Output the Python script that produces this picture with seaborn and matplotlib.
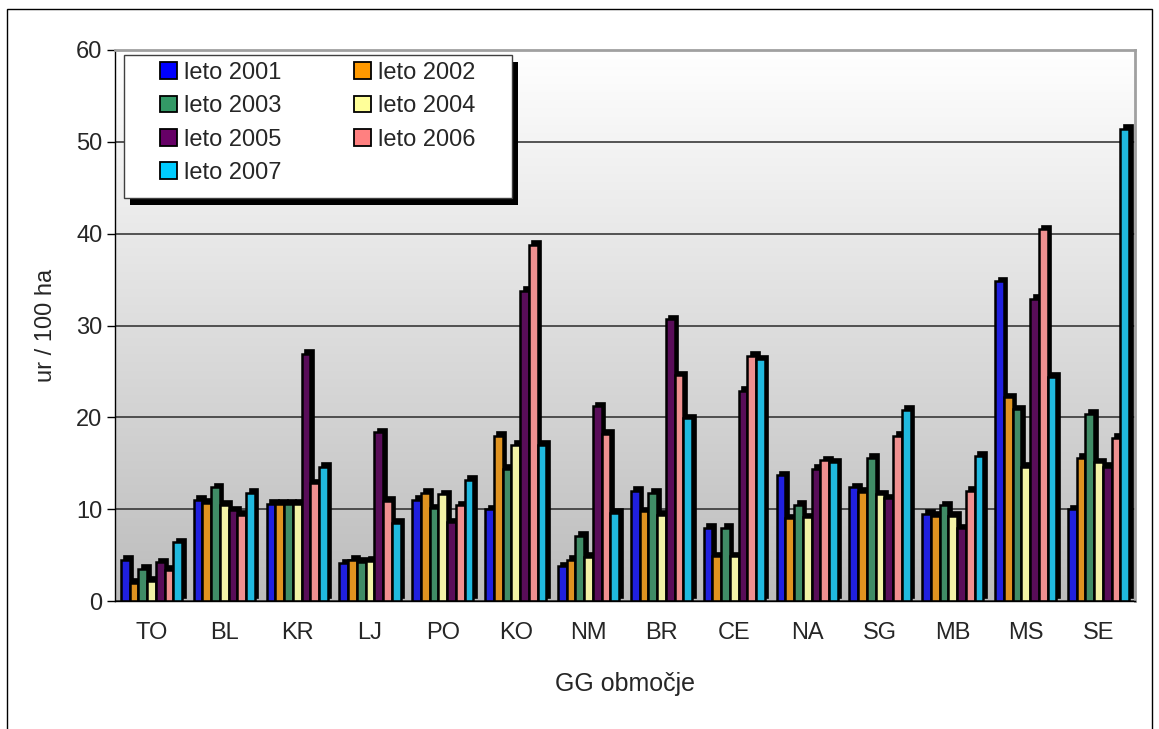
import matplotlib

matplotlib.use("Agg")

import matplotlib.pyplot as plt
import numpy as np
import pandas as pd
import seaborn as sns
from matplotlib.colors import LinearSegmentedColormap
from matplotlib.patches import Patch, Rectangle
from matplotlib.transforms import ScaledTranslation

# Podatki: ure / 100 ha po GG območjih in letih
obmocja = ["TO", "BL", "KR", "LJ", "PO", "KO", "NM", "BR", "CE", "NA", "SG", "MB", "MS", "SE"]
leta = ["leto 2001", "leto 2002", "leto 2003", "leto 2004", "leto 2005", "leto 2006", "leto 2007"]

leto_2001 = [4.5, 11.0, 10.6, 4.1, 11.0, 10.0, 3.8, 12.0, 8.0, 13.7, 12.4, 9.5, 34.8, 10.0]
leto_2002 = [2.0, 10.7, 10.6, 4.5, 11.8, 18.0, 4.5, 9.8, 4.9, 9.0, 11.9, 9.3, 22.2, 15.6]
leto_2003 = [3.5, 12.4, 10.6, 4.3, 10.1, 14.4, 7.1, 11.8, 8.0, 10.5, 15.6, 10.4, 20.9, 20.4]
leto_2004 = [2.2, 10.5, 10.6, 4.4, 11.6, 17.0, 4.8, 9.4, 4.9, 9.1, 11.6, 9.3, 14.6, 15.1]
leto_2005 = [4.2, 9.9, 26.9, 18.4, 8.6, 33.8, 21.2, 30.7, 22.9, 14.4, 11.2, 7.9, 32.9, 14.6]
leto_2006 = [3.4, 9.4, 12.8, 10.9, 10.4, 38.8, 18.2, 24.6, 26.7, 15.3, 18.0, 12.0, 40.5, 17.8]
leto_2007 = [6.4, 11.8, 14.6, 8.5, 13.2, 17.0, 9.6, 19.9, 26.3, 15.1, 20.8, 15.8, 24.4, 51.4]

barve = ["#0000ff", "#ff9900", "#339966", "#ffff99", "#660066", "#ff8080", "#00ccff"]

serije = [leto_2001, leto_2002, leto_2003, leto_2004, leto_2005, leto_2006, leto_2007]
df = pd.DataFrame(
    [(o, l, v) for l, s in zip(leta, serije) for o, v in zip(obmocja, s)],
    columns=["obmocje", "leto", "vrednost"],
)

sns.set_style("white")
plt.rcParams["font.family"] = ["Liberation Sans", "DejaVu Sans"]

W, H = 1159, 729
fig = plt.figure(figsize=(W / 100, H / 100), dpi=100)
ax = fig.add_axes([115 / W, 1 - 601 / H, 1020 / W, 551 / H])

sns.barplot(
    data=df, x="obmocje", y="vrednost", hue="leto",
    order=obmocja, hue_order=leta, palette=barve,
    width=0.84, edgecolor="black", linewidth=1.8,
    legend=False, ax=ax, zorder=2,
)

# psevdo 3D globina: temna senca zgoraj in desno od vsakega stolpca
zamik = ScaledTranslation(3.5 / 100, 3.5 / 100, fig.dpi_scale_trans)
for p in list(ax.patches):
    ax.add_patch(Rectangle(
        (p.get_x(), p.get_y()), p.get_width(), p.get_height(),
        facecolor="black", edgecolor="black", linewidth=1.2,
        transform=ax.transData + zamik, zorder=1.5,
    ))

ax.set_xlim(-0.5, len(obmocja) - 0.5)
ax.set_ylim(0, 60)

# gradientno ozadje (belo zgoraj, sivo spodaj)
cmap = LinearSegmentedColormap.from_list("ozadje", ["#bcbcbc", "#ffffff"])
ax.imshow(np.linspace(0, 1, 256).reshape(-1, 1), cmap=cmap, origin="lower",
          extent=(-0.5, len(obmocja) - 0.5, 0, 60), aspect="auto", zorder=0)

ax.set_yticks(np.arange(0, 61, 10))
ax.yaxis.grid(True, color="#2a2a2a", linewidth=1.1)
ax.set_axisbelow(True)
for gl in ax.get_ygridlines():
    gl.set_zorder(0.5)

ax.set_xticks(np.arange(len(obmocja)))
ax.set_xticks(np.arange(len(obmocja) + 1) - 0.5, minor=True)
ax.tick_params(axis="x", which="major", length=0, pad=15, labelsize=17)
ax.tick_params(axis="x", which="minor", length=9, width=1, color="black", direction="out")
ax.tick_params(axis="y", length=6, width=1, color="black", direction="out", left=True,
               labelsize=17, pad=3)

for s in ["left", "bottom"]:
    ax.spines[s].set_color("black")
    ax.spines[s].set_linewidth(1)
for s in ["top", "right"]:
    ax.spines[s].set_color("#a0a0a0")
    ax.spines[s].set_linewidth(2)

ax.set_xlabel("GG območje", fontsize=18, labelpad=20)
ax.set_ylabel("ur / 100 ha", fontsize=17, labelpad=14)

# okvir legende s senco
ax.add_patch(Rectangle((130 / W, 1 - 205 / H), 388 / W, 143 / H, transform=fig.transFigure,
                       facecolor="black", edgecolor="none", zorder=4, clip_on=False))
ax.add_patch(Rectangle((124 / W, 1 - 198 / H), 388 / W, 143 / H, transform=fig.transFigure,
                       facecolor="white", edgecolor="#404040", linewidth=1, zorder=4.1,
                       clip_on=False))

# legenda po vrsticah (2 stolpca)
rocaji = [Patch(facecolor=c, edgecolor="black", linewidth=1.3) for c in barve]
vrstni_red = [0, 2, 4, 6, 1, 3, 5]
leg = ax.legend(
    [rocaji[i] for i in vrstni_red], [leta[i] for i in vrstni_red],
    ncol=2, loc="upper left", bbox_to_anchor=(160 / W, 1 - 62 / H),
    bbox_transform=fig.transFigure, fontsize=17, frameon=False,
    handlelength=0.7, handleheight=0.7, handletextpad=0.3,
    columnspacing=3.1, labelspacing=0.48, borderpad=0, borderaxespad=0,
)
leg.set_zorder(5)

# okvir okoli celotne slike
fig.patches.append(Rectangle((7 / W, -0.02), 1145 / W, 1 - 9 / H + 0.02,
                             transform=fig.transFigure, fill=False,
                             edgecolor="black", linewidth=1))

fig.savefig("out.png", dpi=100)
